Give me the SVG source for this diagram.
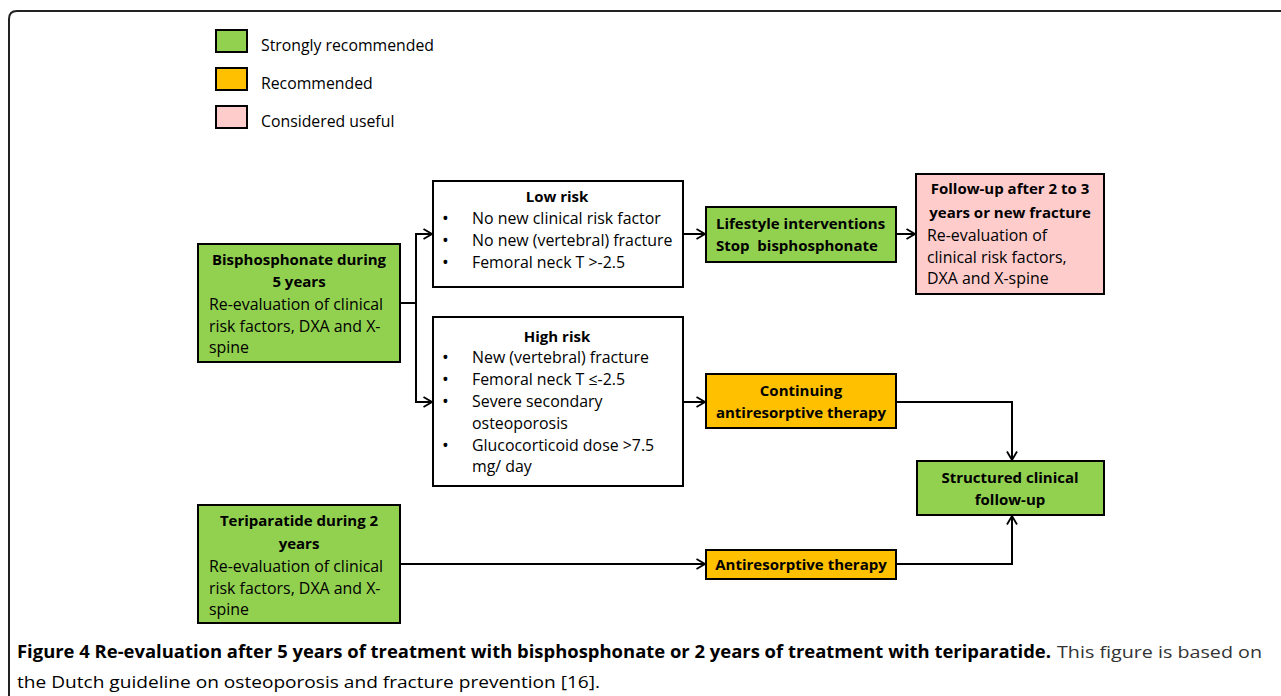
<svg xmlns="http://www.w3.org/2000/svg" width="1281" height="696" viewBox="0 0 1281 696">
<defs>
<marker id="arr" viewBox="0 0 10 12" refX="9.5" refY="6" markerWidth="10" markerHeight="12" markerUnits="userSpaceOnUse" orient="auto">
<path d="M1,1 L9.5,6 L1,11" fill="none" stroke="#000" stroke-width="1.8"/>
</marker>
</defs>
<style>
.box{stroke:#000;stroke-width:2}
.g{fill:#92D050}.o{fill:#FFC000}.p{fill:#FFCCCC}.w{fill:#fff}
text{font-family:"Open Sans","Liberation Sans",sans-serif;font-size:15.9px;fill:#000}
.b{font-weight:bold;font-size:15px}
.c{text-anchor:middle}
.lg{font-size:15.8px}
.bu{font-size:18px}
.conn{fill:none;stroke:#000;stroke-width:2}
.cap{font-family:"Open Sans","Liberation Sans",sans-serif;font-size:17px}
</style>
<rect width="1281" height="696" fill="#fff"/>
<path d="M9,696 V19 Q9,11 17,11 H1281" fill="none" stroke="#222" stroke-width="2"/>

<g id="legend">
<rect class="box g" x="216" y="30" width="31" height="22"/>
<text class="lg" x="261" y="51">Strongly recommended</text>
<rect class="box o" x="216" y="68" width="31" height="22"/>
<text class="lg" x="261" y="89">Recommended</text>
<rect class="box p" x="216" y="106" width="31" height="22"/>
<text class="lg" x="261" y="127">Considered useful</text>
</g>

<g id="bisphosphonate">
<rect class="box g" x="198" y="244" width="202" height="118"/>
<text class="b c" x="299" y="265">Bisphosphonate during</text>
<text class="b c" x="299" y="287">5 years</text>
<text x="209" y="310">Re-evaluation of clinical</text>
<text x="209" y="332">risk factors, DXA and X-</text>
<text x="209" y="353">spine</text>
</g>

<g id="lowrisk">
<rect class="box w" x="433" y="181" width="250" height="106"/>
<text class="b c" x="557" y="202">Low risk</text>
<text class="bu" x="442" y="225">•</text><text x="472" y="224">No new clinical risk factor</text>
<text class="bu" x="442" y="247">•</text><text x="472" y="246">No new (vertebral) fracture</text>
<text class="bu" x="442" y="269">•</text><text x="472" y="268">Femoral neck T &gt;-2.5</text>
</g>

<g id="highrisk">
<rect class="box w" x="433" y="317" width="250" height="169"/>
<text class="b c" x="557" y="342">High risk</text>
<text class="bu" x="442" y="364">•</text><text x="472" y="363">New (vertebral) fracture</text>
<text class="bu" x="442" y="386">•</text><text x="472" y="385">Femoral neck T ≤-2.5</text>
<text class="bu" x="442" y="408">•</text><text x="472" y="407">Severe secondary</text>
<text x="472" y="429">osteoporosis</text>
<text class="bu" x="442" y="452">•</text><text x="472" y="451">Glucocorticoid dose &gt;7.5</text>
<text x="472" y="472">mg/ day</text>
</g>

<g id="lifestyle">
<rect class="box g" x="706" y="207" width="190" height="55"/>
<text class="b" x="716" y="229">Lifestyle interventions</text>
<text class="b" x="716" y="251" xml:space="preserve">Stop  bisphosphonate</text>
</g>

<g id="followup">
<rect class="box p" x="916" y="174" width="188" height="120"/>
<text class="b c" x="1010" y="194">Follow-up after 2 to 3</text>
<text class="b c" x="1010" y="218">years or new fracture</text>
<text x="927" y="241">Re-evaluation of</text>
<text x="927" y="263">clinical risk factors,</text>
<text x="927" y="284">DXA and X-spine</text>
</g>

<g id="continuing">
<rect class="box o" x="706" y="374" width="190" height="54"/>
<text class="b c" x="801" y="396">Continuing</text>
<text class="b c" x="801" y="418">antiresorptive therapy</text>
</g>

<g id="structured">
<rect class="box g" x="917" y="461" width="187" height="54"/>
<text class="b c" x="1010" y="483">Structured clinical</text>
<text class="b c" x="1010" y="505">follow-up</text>
</g>

<g id="teriparatide">
<rect class="box g" x="198" y="505" width="202" height="118"/>
<text class="b c" x="299" y="526">Teriparatide during 2</text>
<text class="b c" x="299" y="549">years</text>
<text x="209" y="572">Re-evaluation of clinical</text>
<text x="209" y="594">risk factors, DXA and X-</text>
<text x="209" y="615">spine</text>
</g>

<g id="antiresorptive">
<rect class="box o" x="706" y="550" width="190" height="29"/>
<text class="b c" x="801" y="570">Antiresorptive therapy</text>
</g>

<g id="connectors">
<path class="conn" d="M400,303 H416"/>
<path class="conn" d="M416,303 V234 H432" marker-end="url(#arr)"/>
<path class="conn" d="M416,303 V402 H432" marker-end="url(#arr)"/>
<path class="conn" d="M683,234 H705" marker-end="url(#arr)"/>
<path class="conn" d="M896,234 H915" marker-end="url(#arr)"/>
<path class="conn" d="M683,402 H705" marker-end="url(#arr)"/>
<path class="conn" d="M896,402 H1012 V460" marker-end="url(#arr)"/>
<path class="conn" d="M400,564 H705" marker-end="url(#arr)"/>
<path class="conn" d="M896,564 H1012 V516" marker-end="url(#arr)"/>
</g>

<g id="caption">
<text class="cap" x="17" y="658"><tspan font-weight="bold" textLength="1034" lengthAdjust="spacingAndGlyphs">Figure 4 Re-evaluation after 5 years of treatment with bisphosphonate or 2 years of treatment with teriparatide.</tspan><tspan x="1057" fill="#333" textLength="205" lengthAdjust="spacingAndGlyphs">This figure is based on</tspan></text>
<text class="cap" x="17" y="688" fill="#333" textLength="583" lengthAdjust="spacingAndGlyphs">the Dutch guideline on osteoporosis and fracture prevention [16].</text>
</g>
</svg>
